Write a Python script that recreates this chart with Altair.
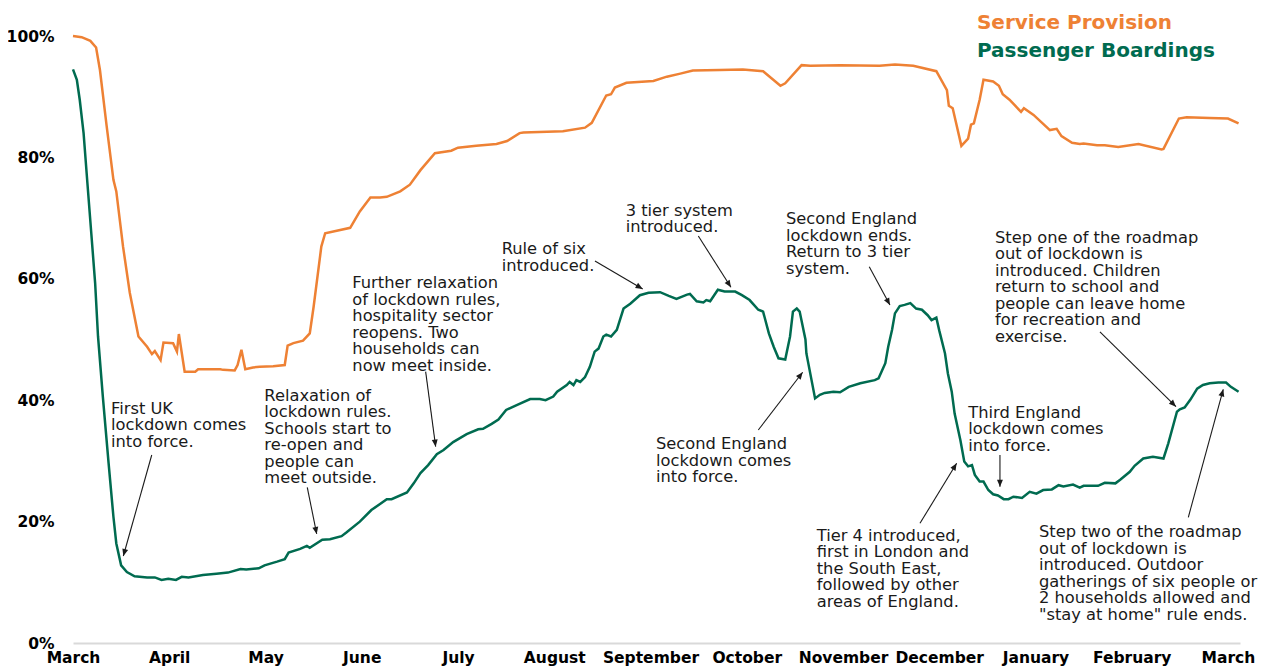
import math
import altair as alt
import pandas as pd

# ---------------- data ----------------
MONTHS = ["March", "April", "May", "June", "July", "August", "September",
          "October", "November", "December", "January", "February", "March"]

SERIES = ["Service Provision", "Passenger Boardings"]
COLORS = ["#EE8134", "#006B50"]

# x = months since start of March 2020, y = percent of normal
SP_X = [0.00, 0.09, 0.18, 0.24, 0.28, 0.35, 0.42, 0.45, 0.52, 0.59,
        0.66, 0.68, 0.77, 0.82, 0.85, 0.91, 0.94, 1.04, 1.08, 1.10,
        1.16, 1.27, 1.30, 1.53, 1.56, 1.68, 1.71, 1.75, 1.79, 1.87,
        1.94, 2.08, 2.20, 2.23, 2.29, 2.39, 2.46, 2.50, 2.58, 2.62,
        2.88, 2.98, 3.09, 3.19, 3.26, 3.40, 3.50, 3.61, 3.76, 3.93,
        4.00, 4.19, 4.40, 4.51, 4.64, 4.68, 5.09, 5.32, 5.39, 5.54,
        5.59, 5.63, 5.75, 6.03, 6.17, 6.31, 6.44, 6.72, 6.96, 7.17,
        7.35, 7.40, 7.57, 7.66, 7.97, 8.38, 8.54, 8.73, 8.97, 9.08,
        9.10, 9.14, 9.23, 9.30, 9.33, 9.36, 9.42, 9.46, 9.56, 9.62,
        9.66, 9.73, 9.85, 9.88, 9.98, 10.15, 10.22, 10.27, 10.38, 10.46,
        10.50, 10.64, 10.72, 10.86, 11.07, 11.31, 11.33, 11.49, 11.57, 11.81,
        12.00, 12.11]
SP_Y = [100.0, 99.8, 99.2, 98.1, 94.4, 85.1, 76.3, 74.4, 65.3, 57.7,
        52.1, 50.5, 48.8, 47.6, 48.1, 46.6, 49.5, 49.4, 48.0, 50.9,
        44.7, 44.7, 45.1, 45.1, 45.0, 44.9, 45.8, 48.3, 45.1, 45.4,
        45.5, 45.6, 45.8, 49.0, 49.4, 49.8, 51.0, 55.4, 65.3, 67.5,
        68.4, 71.1, 73.4, 73.4, 73.5, 74.4, 75.5, 77.9, 80.7, 81.1,
        81.6, 81.9, 82.2, 82.7, 84.0, 84.1, 84.3, 84.9, 85.7, 90.2,
        90.4, 91.5, 92.3, 92.6, 93.3, 93.8, 94.3, 94.4, 94.5, 94.2,
        91.8, 92.2, 95.2, 95.1, 95.2, 95.1, 95.3, 95.1, 94.2, 91.1,
        88.5, 88.1, 81.9, 83.1, 85.4, 85.6, 89.5, 92.8, 92.5, 91.8,
        90.4, 89.5, 87.5, 88.1, 87.0, 84.5, 84.7, 83.5, 82.4, 82.2,
        82.3, 82.0, 82.0, 81.7, 82.2, 81.3, 81.4, 86.4, 86.6, 86.5,
        86.4, 85.6]

PB_X = [0.00, 0.04, 0.07, 0.11, 0.15, 0.19, 0.23, 0.26, 0.31, 0.37,
        0.42, 0.45, 0.50, 0.56, 0.64, 0.77, 0.85, 0.92, 0.99, 1.07,
        1.13, 1.20, 1.35, 1.49, 1.61, 1.74, 1.80, 1.93, 1.99, 2.12,
        2.20, 2.24, 2.36, 2.43, 2.46, 2.59, 2.67, 2.79, 2.84, 2.98,
        3.10, 3.19, 3.26, 3.31, 3.47, 3.54, 3.61, 3.69, 3.78, 3.85,
        3.95, 4.09, 4.21, 4.26, 4.35, 4.42, 4.50, 4.61, 4.75, 4.85,
        4.91, 4.99, 5.03, 5.13, 5.16, 5.20, 5.23, 5.27, 5.32, 5.37,
        5.42, 5.46, 5.51, 5.54, 5.59, 5.65, 5.72, 5.79, 5.89, 5.98,
        6.10, 6.19, 6.27, 6.38, 6.41, 6.48, 6.55, 6.58, 6.62, 6.70,
        6.77, 6.88, 6.95, 7.03, 7.12, 7.17, 7.23, 7.28, 7.33, 7.40,
        7.45, 7.48, 7.52, 7.55, 7.61, 7.62, 7.71, 7.76, 7.81, 7.90,
        7.97, 8.06, 8.18, 8.33, 8.37, 8.44, 8.47, 8.51, 8.54, 8.59,
        8.64, 8.70, 8.76, 8.82, 8.88, 8.92, 8.97, 9.00, 9.06, 9.09,
        9.13, 9.16, 9.22, 9.26, 9.30, 9.34, 9.37, 9.42, 9.46, 9.51,
        9.56, 9.61, 9.67, 9.72, 9.77, 9.86, 9.94, 10.01, 10.08, 10.17,
        10.24, 10.29, 10.39, 10.46, 10.50, 10.65, 10.72, 10.83, 10.88, 10.98,
        11.03, 11.12, 11.22, 11.33, 11.38, 11.47, 11.50, 11.55, 11.61, 11.68,
        11.74, 11.81, 11.90, 11.98, 12.03, 12.11]
PB_Y = [94.5, 92.8, 89.5, 84.0, 75.7, 67.5, 59.3, 50.5, 40.6, 29.6,
        20.8, 16.4, 12.8, 11.7, 11.0, 10.8, 10.8, 10.4, 10.6, 10.4,
        10.9, 10.8, 11.2, 11.4, 11.6, 12.2, 12.1, 12.3, 12.8, 13.4,
        13.8, 14.9, 15.5, 16.0, 15.7, 17.0, 17.1, 17.6, 18.2, 20.0,
        21.9, 22.9, 23.7, 23.7, 24.8, 26.3, 28.0, 29.3, 31.1, 31.8,
        33.1, 34.4, 35.2, 35.3, 36.1, 36.8, 38.4, 39.2, 40.2, 40.2,
        40.0, 40.6, 41.4, 42.5, 43.0, 42.5, 43.3, 43.0, 43.8, 45.5,
        48.0, 48.5, 50.5, 50.8, 50.5, 51.6, 55.1, 55.9, 57.3, 57.7,
        57.8, 57.2, 56.7, 57.4, 57.5, 56.3, 56.1, 56.5, 56.3, 58.2,
        57.9, 57.9, 57.3, 56.5, 54.9, 54.6, 51.0, 48.8, 46.9, 46.7,
        50.5, 54.6, 55.1, 54.6, 50.0, 47.7, 40.3, 40.9, 41.2, 41.4,
        41.3, 42.2, 42.8, 43.3, 43.6, 46.1, 48.8, 51.6, 54.3, 55.5,
        55.7, 56.0, 55.1, 54.9, 54.0, 53.2, 53.6, 51.5, 47.7, 44.4,
        41.4, 37.8, 33.4, 29.9, 29.1, 29.3, 27.7, 26.6, 26.6, 25.2,
        24.5, 24.3, 23.7, 23.7, 24.1, 23.9, 24.9, 24.6, 25.2, 25.3,
        26.0, 25.8, 26.1, 25.6, 25.9, 25.9, 26.4, 26.3, 26.9, 28.2,
        29.2, 30.4, 30.7, 30.4, 32.9, 38.1, 38.5, 38.8, 40.1, 41.9,
        42.5, 42.8, 42.9, 42.9, 42.2, 41.4]

NOTE_TEXT = [
    "First UK\nlockdown comes\ninto force.",
    "Relaxation of\nlockdown rules.\nSchools start to\nre-open and\npeople can\nmeet outside.",
    "Further relaxation\nof lockdown rules,\nhospitality sector\nreopens. Two\nhouseholds can\nnow meet inside.",
    "Rule of six\nintroduced.",
    "3 tier system\nintroduced.",
    "Second England\nlockdown ends.\nReturn to 3 tier\nsystem.",
    "Step one of the roadmap\nout of lockdown is\nintroduced. Children\nreturn to school and\npeople can leave home\nfor recreation and\nexercise.",
    "Second England\nlockdown comes\ninto force.",
    "Tier 4 introduced,\nfirst in London and\nthe South East,\nfollowed by other\nareas of England.",
    "Third England\nlockdown comes\ninto force.",
    "Step two of the roadmap\nout of lockdown is\nintroduced. Outdoor\ngatherings of six people or\n2 households allowed and\n\"stay at home\" rule ends.",
]
NOTE_X = [0.395, 1.988, 2.902, 4.454, 5.742, 7.408, 9.579, 6.057, 7.727, 9.302, 10.036]
NOTE_Y = [39.87, 42.01, 60.58, 66.18, 72.49, 71.12, 68.09, 34.05, 18.95, 39.26, 19.60]

ARROW_X1 = [0.818, 2.434, 3.664, 5.423, 6.497, 8.273, 10.670, 7.120, 8.800, 9.631, 11.588]
ARROW_Y1 = [30.97, 25.65, 44.70, 62.93, 67.05, 61.99, 51.24, 35.09, 19.72, 30.97, 20.71]
ARROW_X2 = [0.523, 2.532, 3.768, 5.919, 6.836, 8.488, 11.460, 7.581, 9.181, 9.631, 11.951]
ARROW_Y2 = [14.33, 17.96, 32.34, 58.32, 58.60, 55.68, 38.93, 44.60, 29.60, 25.75, 41.80]

LEGEND_X = [9.392, 9.392]
LEGEND_Y = [102.2, 97.5]

# ---------------- layout ----------------
W, H = 1167, 607
XMAX = 12.125
FONT = "DejaVu Sans"
INK = "#1a1a1a"

lines_df = pd.DataFrame({
    "month": SP_X + PB_X,
    "value": SP_Y + PB_Y,
    "series": [SERIES[0]] * len(SP_X) + [SERIES[1]] * len(PB_X),
})

notes_df = pd.DataFrame({"x": NOTE_X, "y": NOTE_Y, "text": NOTE_TEXT})

px_per_x = W / XMAX
px_per_y = H / 100.0
angles = []
for x1, y1, x2, y2 in zip(ARROW_X1, ARROW_Y1, ARROW_X2, ARROW_Y2):
    dx = (x2 - x1) * px_per_x
    dy = -(y2 - y1) * px_per_y
    angles.append(math.degrees(math.atan2(dx, -dy)) % 360)
arrows_df = pd.DataFrame({"x1": ARROW_X1, "y1": ARROW_Y1,
                          "x2": ARROW_X2, "y2": ARROW_Y2, "angle": angles})

legend_df = pd.DataFrame({"x": LEGEND_X, "y": LEGEND_Y, "text": SERIES})

xs = alt.Scale(domain=[0, XMAX], nice=False, zero=False)
ys = alt.Scale(domain=[0, 100], nice=False, zero=False)
cs = alt.Scale(domain=SERIES, range=COLORS)

month_js = "[" + ",".join("'%s'" % m for m in MONTHS) + "]"

x_axis = alt.Axis(values=list(range(len(MONTHS))), labelExpr=month_js + "[datum.value]",
                  title=None, grid=False, ticks=False, domain=True,
                  domainColor="#d9d9d9", domainWidth=2, labelFlush=False,
                  labelOverlap=False, labelBound=False, labelPadding=7,
                  labelFont=FONT, labelFontWeight="bold", labelFontSize=15.5,
                  labelColor="#000000")
y_axis = alt.Axis(values=[0, 20, 40, 60, 80, 100], labelExpr="datum.value + '%'",
                  title=None, grid=False, ticks=False, domain=False,
                  labelPadding=19, labelFont=FONT, labelFontWeight="bold",
                  labelFontSize=15.5, labelColor="#000000")


def X(field):
    return alt.X(field, scale=xs, axis=x_axis)


def Y(field):
    return alt.Y(field, scale=ys, axis=y_axis)


lines = alt.Chart(lines_df).mark_line(strokeWidth=2.5, interpolate="linear").encode(
    x=X("month:Q"),
    y=Y("value:Q"),
    color=alt.Color("series:N", scale=cs, legend=None),
    detail="series:N",
)

notes = alt.Chart(notes_df).mark_text(
    align="left", baseline="top", lineBreak="\n", font=FONT, fontSize=16.3,
    lineHeight=16.5, color=INK,
).encode(
    x=X("x:Q"),
    y=Y("y:Q"),
    text="text:N",
)

rules = alt.Chart(arrows_df).mark_rule(color=INK, strokeWidth=1.1).encode(
    x=X("x1:Q"),
    y=Y("y1:Q"),
    x2="x2:Q",
    y2="y2:Q",
)

heads = alt.Chart(arrows_df).mark_point(
    shape="M0,0L-0.42,1L0.42,1Z", filled=True, size=200, color=INK,
    opacity=1, strokeWidth=0,
).encode(
    x=X("x2:Q"),
    y=Y("y2:Q"),
    angle=alt.Angle("angle:Q", scale=None),
)

legend = alt.Chart(legend_df).mark_text(
    align="left", baseline="middle", font=FONT, fontWeight="bold", fontSize=20,
).encode(
    x=X("x:Q"),
    y=Y("y:Q"),
    text="text:N",
    color=alt.Color("text:N", scale=cs, legend=None),
)

chart = alt.layer(lines, rules, heads, notes, legend).properties(
    width=W, height=H,
    autosize=alt.AutoSizeParams(type="none"),
    padding={"left": 65, "top": 28, "right": 22, "bottom": 28},
).configure_view(stroke=None)

chart.save("out.html", embed_options={"renderer": "svg", "actions": False})
